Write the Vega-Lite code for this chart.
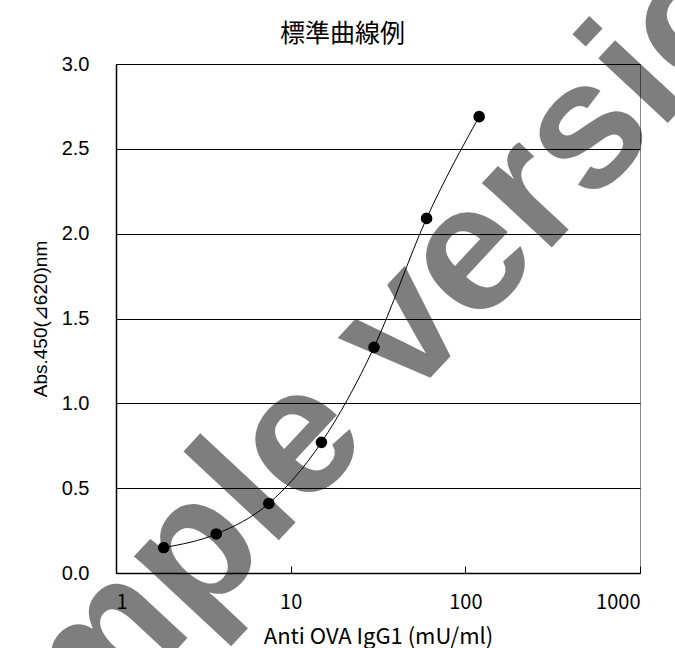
{
  "$schema": "https://vega.github.io/schema/vega-lite/v6.json",
  "width": 524,
  "height": 509,
  "autosize": {"type": "none"},
  "padding": {"left": 116, "top": 64, "right": 35, "bottom": 75},
  "background": "white",
  "config": {
    "view": {"stroke": "#888888", "strokeWidth": 1},
    "axis": {"domainColor": "black", "tickColor": "black", "labelColor": "black", "titleColor": "black"}
  },
  "datasets": {
    "std": [
      {"conc": 1.875, "abs": 0.15},
      {"conc": 3.75, "abs": 0.23},
      {"conc": 7.5, "abs": 0.41},
      {"conc": 15, "abs": 0.77},
      {"conc": 30, "abs": 1.33},
      {"conc": 60, "abs": 2.09},
      {"conc": 120, "abs": 2.69}
    ],
    "wm": [{"conc": 21.9, "abs": 1.11, "label": "Sample version"}]
  },
  "resolve": {"axis": {"x": "independent"}},
  "layer": [
    {
      "data": {"name": "std"},
      "mark": {"type": "line", "interpolate": "monotone", "color": "black", "strokeWidth": 1},
      "encoding": {
        "x": {
          "field": "conc", "type": "quantitative",
          "scale": {"type": "log", "domain": [1, 1000]},
          "axis": {
            "values": [1, 10, 100, 1000], "format": "d", "grid": false,
            "title": "Anti OVA IgG1 (mU/ml)",
            "titleFont": "Noto Sans CJK JP", "titleFontSize": 22, "titleFontWeight": "normal",
            "titlePadding": 14,
            "labelFont": "Noto Sans CJK JP", "labelFontSize": 20,
            "labelPadding": 26,
            "tickSize": -7,
            "domainWidth": 1.5
          }
        },
        "y": {
          "field": "abs", "type": "quantitative",
          "scale": {"domain": [0, 3]},
          "axis": {
            "values": [0, 0.5, 1, 1.5, 2, 2.5, 3], "format": ".1f",
            "grid": true, "gridColor": "black", "gridOpacity": 1, "gridWidth": 1,
            "title": "Abs.450(⊿620)nm",
            "titleFont": "Liberation Sans", "titleFontSize": 19, "titleFontWeight": "normal",
            "titlePadding": 11,
            "labelFont": "Liberation Sans", "labelFontSize": 20,
            "labelPadding": 33,
            "tickSize": -6,
            "domainWidth": 1.5
          }
        }
      }
    },
    {
      "data": {"name": "std"},
      "mark": {"type": "circle", "color": "black", "opacity": 1, "size": 135},
      "encoding": {
        "x": {"field": "conc", "type": "quantitative", "axis": null},
        "y": {"field": "abs", "type": "quantitative"}
      }
    },
    {
      "data": {"name": "wm"},
      "mark": {
        "type": "text", "font": "Liberation Sans", "fontWeight": "bold", "fontSize": 180,
        "angle": -47, "align": "center", "baseline": "middle", "color": "black", "opacity": 0.5, "clip": false
      },
      "encoding": {
        "x": {
          "field": "conc", "type": "quantitative",
          "axis": {
            "orient": "top", "title": "標準曲線例", "labels": false, "ticks": false, "domain": false, "grid": false,
            "titleFont": "Noto Sans CJK JP", "titleFontSize": 25, "titleFontWeight": "normal",
            "titlePadding": 18, "titleX": 226
          }
        },
        "y": {"field": "abs", "type": "quantitative"},
        "text": {"field": "label"}
      }
    }
  ]
}
